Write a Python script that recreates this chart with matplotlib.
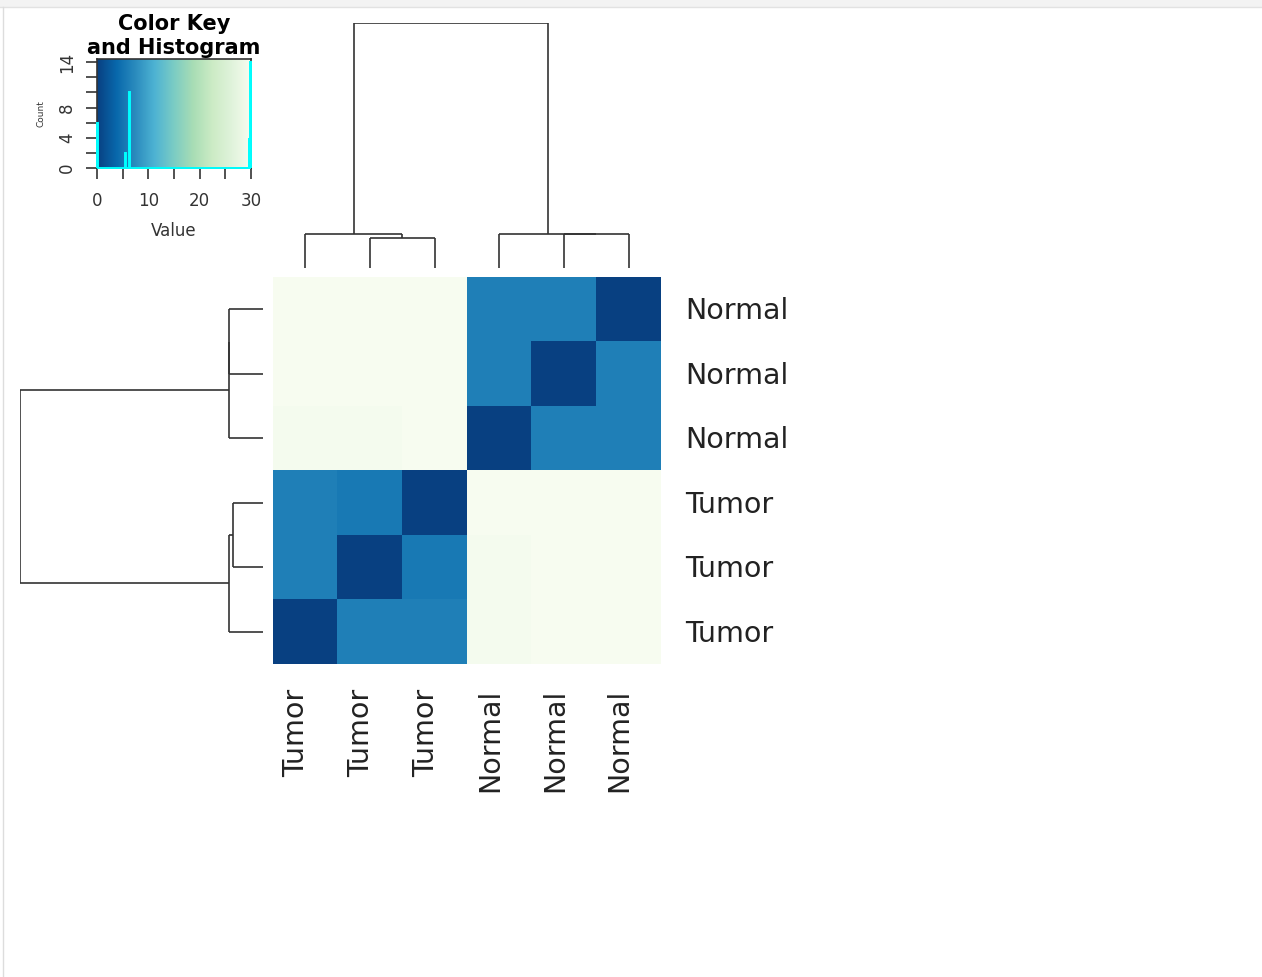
import numpy as np
import matplotlib
matplotlib.use('Agg')
import matplotlib.pyplot as plt
import matplotlib.transforms as mtransforms
from matplotlib.patches import Rectangle
from matplotlib.lines import Line2D

# --- Data: sample distance matrix (samples in original order) ---
samples = ['Tumor', 'Tumor', 'Tumor', 'Normal', 'Normal', 'Normal']
dist = np.array([
    [0.0, 6.3, 6.3, 29.6, 30.0, 30.0],
    [6.3, 0.0, 5.6, 29.6, 30.0, 30.0],
    [6.3, 5.6, 0.0, 30.0, 30.0, 30.0],
    [29.6, 29.6, 30.0, 0.0, 6.3, 6.3],
    [30.0, 30.0, 30.0, 6.3, 0.0, 6.3],
    [30.0, 30.0, 30.0, 6.3, 6.3, 0.0],
])
col_order = [0, 1, 2, 3, 4, 5]   # left -> right
row_order = [5, 4, 3, 2, 1, 0]   # top -> bottom
key_xticks = [0, 10, 20, 30]
key_yticks = [0, 4, 8, 14]

cmap = plt.get_cmap('GnBu_r')
vmin, vmax = 0, 30
W, H = 1262, 977


def px_axes(fig, x0, y0, x1, y1):
    # pixel box (top-left origin) -> figure axes
    return fig.add_axes([x0 / W, 1 - y1 / H, (x1 - x0) / W, (y1 - y0) / H])


def complete_linkage(X):
    d = np.sqrt(((X[:, None, :] - X[None, :, :]) ** 2).sum(-1))
    clusters = {i: [i] for i in range(len(X))}
    merges = []
    nid = len(X)
    while len(clusters) > 1:
        keys = list(clusters)
        best = None
        for i in range(len(keys)):
            for j in range(i + 1, len(keys)):
                a, b = keys[i], keys[j]
                h = d[np.ix_(clusters[a], clusters[b])].max()
                if best is None or h < best[2]:
                    best = (a, b, h)
        a, b, h = best
        clusters[nid] = clusters.pop(a) + clusters.pop(b)
        merges.append((a, b, h, nid))
        nid += 1
    return merges


def draw_dendro(ax, merges, order, horizontal=False):
    pos = {leaf: i for i, leaf in enumerate(order)}
    hgt = {leaf: 0.0 for leaf in order}
    for a, b, h, nid in merges:
        segs = [([pos[a], pos[a]], [hgt[a], h]),
                ([pos[b], pos[b]], [hgt[b], h]),
                ([pos[a], pos[b]], [h, h])]
        for p, q in segs:
            if horizontal:
                ax.plot(q, p, color='#333333', lw=1.2, solid_capstyle='butt')
            else:
                ax.plot(p, q, color='#333333', lw=1.2, solid_capstyle='butt')
        pos[nid] = (pos[a] + pos[b]) / 2
        hgt[nid] = h
    return max(hgt.values())


fig = plt.figure(figsize=(W / 100, H / 100), dpi=100)

# screenshot frame
fig.patches.append(Rectangle((0, 1 - 6 / H), 1, 6 / H, transform=fig.transFigure,
                             color='#f3f3f3', zorder=0))
fig.add_artist(Line2D([0, 1], [1 - 6.5 / H] * 2, color='#e2e2e2', lw=1))
fig.add_artist(Line2D([2.5 / W] * 2, [0, 1 - 6.5 / H], color='#dddddd', lw=1))

# --- Heatmap ---
ax = px_axes(fig, 273, 277, 661, 664)
mat = dist[np.ix_(row_order, col_order)]
ax.imshow(mat, cmap=cmap, vmin=vmin, vmax=vmax, aspect='auto', interpolation='nearest')
ax.set_xticks([])
ax.set_yticks([])
for s in ax.spines.values():
    s.set_visible(False)
row_shift = ax.transAxes + mtransforms.ScaledTranslation(24 / 100, 1 / 100, fig.dpi_scale_trans)
for i, r in enumerate(row_order):
    ax.text(1.0, 1 - (i + 0.5) / len(row_order), samples[r], transform=row_shift,
            fontsize=20.5, ha='left', va='center_baseline', color='#222222')
col_shift = ax.transAxes + mtransforms.ScaledTranslation(-9 / 100, -25 / 100, fig.dpi_scale_trans)
for j, c in enumerate(col_order):
    ax.text((j + 0.5) / len(col_order), 0, samples[c], fontsize=20.5, rotation=90,
            ha='center', va='top', color='#222222', transform=col_shift)

# --- Column dendrogram ---
axc = px_axes(fig, 273, 23, 661, 268)
root = draw_dendro(axc, complete_linkage(dist), col_order)
axc.set_xlim(-0.5, len(col_order) - 0.5)
axc.set_ylim(0, root)
axc.axis('off')

# --- Row dendrogram ---
axr = px_axes(fig, 20, 277, 263, 664)
root_r = draw_dendro(axr, complete_linkage(dist), row_order, horizontal=True)
axr.set_ylim(len(row_order) - 0.5, -0.5)
axr.set_xlim(root_r, 0)
axr.axis('off')

# --- Color key with histogram ---
axk = px_axes(fig, 97, 59, 251, 168)
vals = dist.ravel()
counts, edges = np.histogram(vals, bins=np.linspace(vmin, vmax, 256))
ytop = counts.max() * 1.03
axk.imshow(np.linspace(vmin, vmax, 256)[None, :], cmap=cmap, aspect='auto',
           extent=(vmin, vmax, 0, ytop), interpolation='bilinear')
axk.stairs(counts, edges, color='cyan', lw=1.4, zorder=3, clip_on=False)
axk.set_xlim(vmin, vmax)
axk.set_ylim(0, ytop)
axk.set_xticks(np.arange(0, 31, 5))
axk.set_xticklabels([str(v) if v in key_xticks else '' for v in range(0, 31, 5)])
axk.set_yticks(np.arange(0, 15, 2))
axk.set_yticklabels([str(v) if v in key_yticks else '' for v in range(0, 15, 2)],
                    rotation=90, va='center')
axk.tick_params(direction='out', length=8, width=1.2, labelsize=12, colors='#333333', pad=9)
axk.tick_params(axis='y', pad=7)
for s in axk.spines.values():
    s.set_color('#333333')
    s.set_linewidth(1.2)
axk.set_xlabel('Value', fontsize=12, color='#333333', labelpad=9)
axk.set_ylabel('Count', fontsize=6.5, color='#333333', labelpad=9)
fig.text(174 / W, 1 - 36 / H, 'Color Key\nand Histogram', ha='center', va='center',
         fontsize=15, fontweight='bold', linespacing=1.25)

fig.savefig('out.png', dpi=100)
